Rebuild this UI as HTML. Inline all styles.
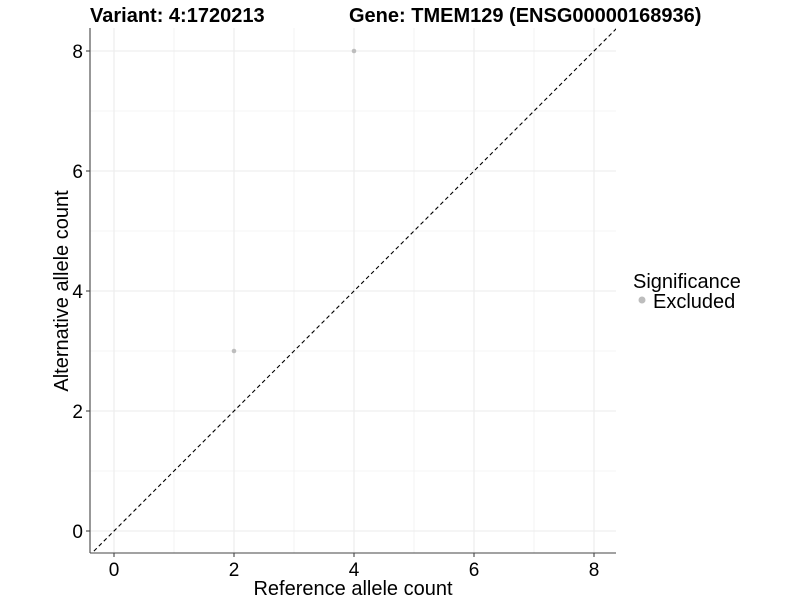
<!DOCTYPE html>
<html><head><style>body{margin:0;background:#fff}svg{display:block}</style></head><body>
<svg width="800" height="600" xmlns="http://www.w3.org/2000/svg" font-family="Liberation Sans, sans-serif">
<rect width="800" height="600" fill="#fff"/>
<defs><clipPath id="c"><rect x="90" y="28" width="526" height="525"/></clipPath></defs>
<g stroke="#ebebeb" stroke-width="0.6">
<line x1="174" y1="28" x2="174" y2="553"/><line x1="294" y1="28" x2="294" y2="553"/><line x1="414" y1="28" x2="414" y2="553"/><line x1="534" y1="28" x2="534" y2="553"/>
<line x1="90" y1="471" x2="616" y2="471"/><line x1="90" y1="351" x2="616" y2="351"/><line x1="90" y1="231" x2="616" y2="231"/><line x1="90" y1="111" x2="616" y2="111"/>
</g>
<g stroke="#ebebeb" stroke-width="1.1">
<line x1="114" y1="28" x2="114" y2="553"/><line x1="234" y1="28" x2="234" y2="553"/><line x1="354" y1="28" x2="354" y2="553"/><line x1="474" y1="28" x2="474" y2="553"/><line x1="594" y1="28" x2="594" y2="553"/>
<line x1="90" y1="531" x2="616" y2="531"/><line x1="90" y1="411" x2="616" y2="411"/><line x1="90" y1="291" x2="616" y2="291"/><line x1="90" y1="171" x2="616" y2="171"/><line x1="90" y1="51" x2="616" y2="51"/>
</g>
<g clip-path="url(#c)">
<line x1="84" y1="561" x2="624" y2="21" stroke="#000" stroke-width="1.1" stroke-dasharray="4,3"/>
</g>
<circle cx="234" cy="351" r="2.3" fill="#bdbdbd"/>
<circle cx="354" cy="51" r="2.3" fill="#bdbdbd"/>
<g stroke="#444" stroke-width="1.1">
<line x1="90" y1="28" x2="90" y2="553"/><line x1="90" y1="553" x2="616" y2="553"/>
<line x1="86" y1="531" x2="90" y2="531"/><line x1="86" y1="411" x2="90" y2="411"/><line x1="86" y1="291" x2="90" y2="291"/><line x1="86" y1="171" x2="90" y2="171"/><line x1="86" y1="51" x2="90" y2="51"/>
<line x1="114" y1="553" x2="114" y2="557"/><line x1="234" y1="553" x2="234" y2="557"/><line x1="354" y1="553" x2="354" y2="557"/><line x1="474" y1="553" x2="474" y2="557"/><line x1="594" y1="553" x2="594" y2="557"/>
</g>
<g font-size="19" fill="#000" text-anchor="end">
<text x="83" y="538">0</text><text x="83" y="418">2</text><text x="83" y="298">4</text><text x="83" y="178">6</text><text x="83" y="58">8</text>
</g>
<g font-size="19" fill="#000" text-anchor="middle">
<text x="114" y="576">0</text><text x="234" y="576">2</text><text x="354" y="576">4</text><text x="474" y="576">6</text><text x="594" y="576">8</text>
</g>
<text x="353" y="595" font-size="20" text-anchor="middle">Reference allele count</text>
<text transform="translate(68,291) rotate(-90)" font-size="20" text-anchor="middle">Alternative allele count</text>
<text x="90" y="22" font-size="20" font-weight="bold">Variant: 4:1720213</text>
<text x="349" y="22" font-size="20" font-weight="bold">Gene: TMEM129 (ENSG00000168936)</text>
<text x="633" y="288" font-size="20">Significance</text>
<circle cx="642" cy="300" r="3.5" fill="#bdbdbd"/>
<text x="653" y="308" font-size="20">Excluded</text>
</svg>
</body></html>
